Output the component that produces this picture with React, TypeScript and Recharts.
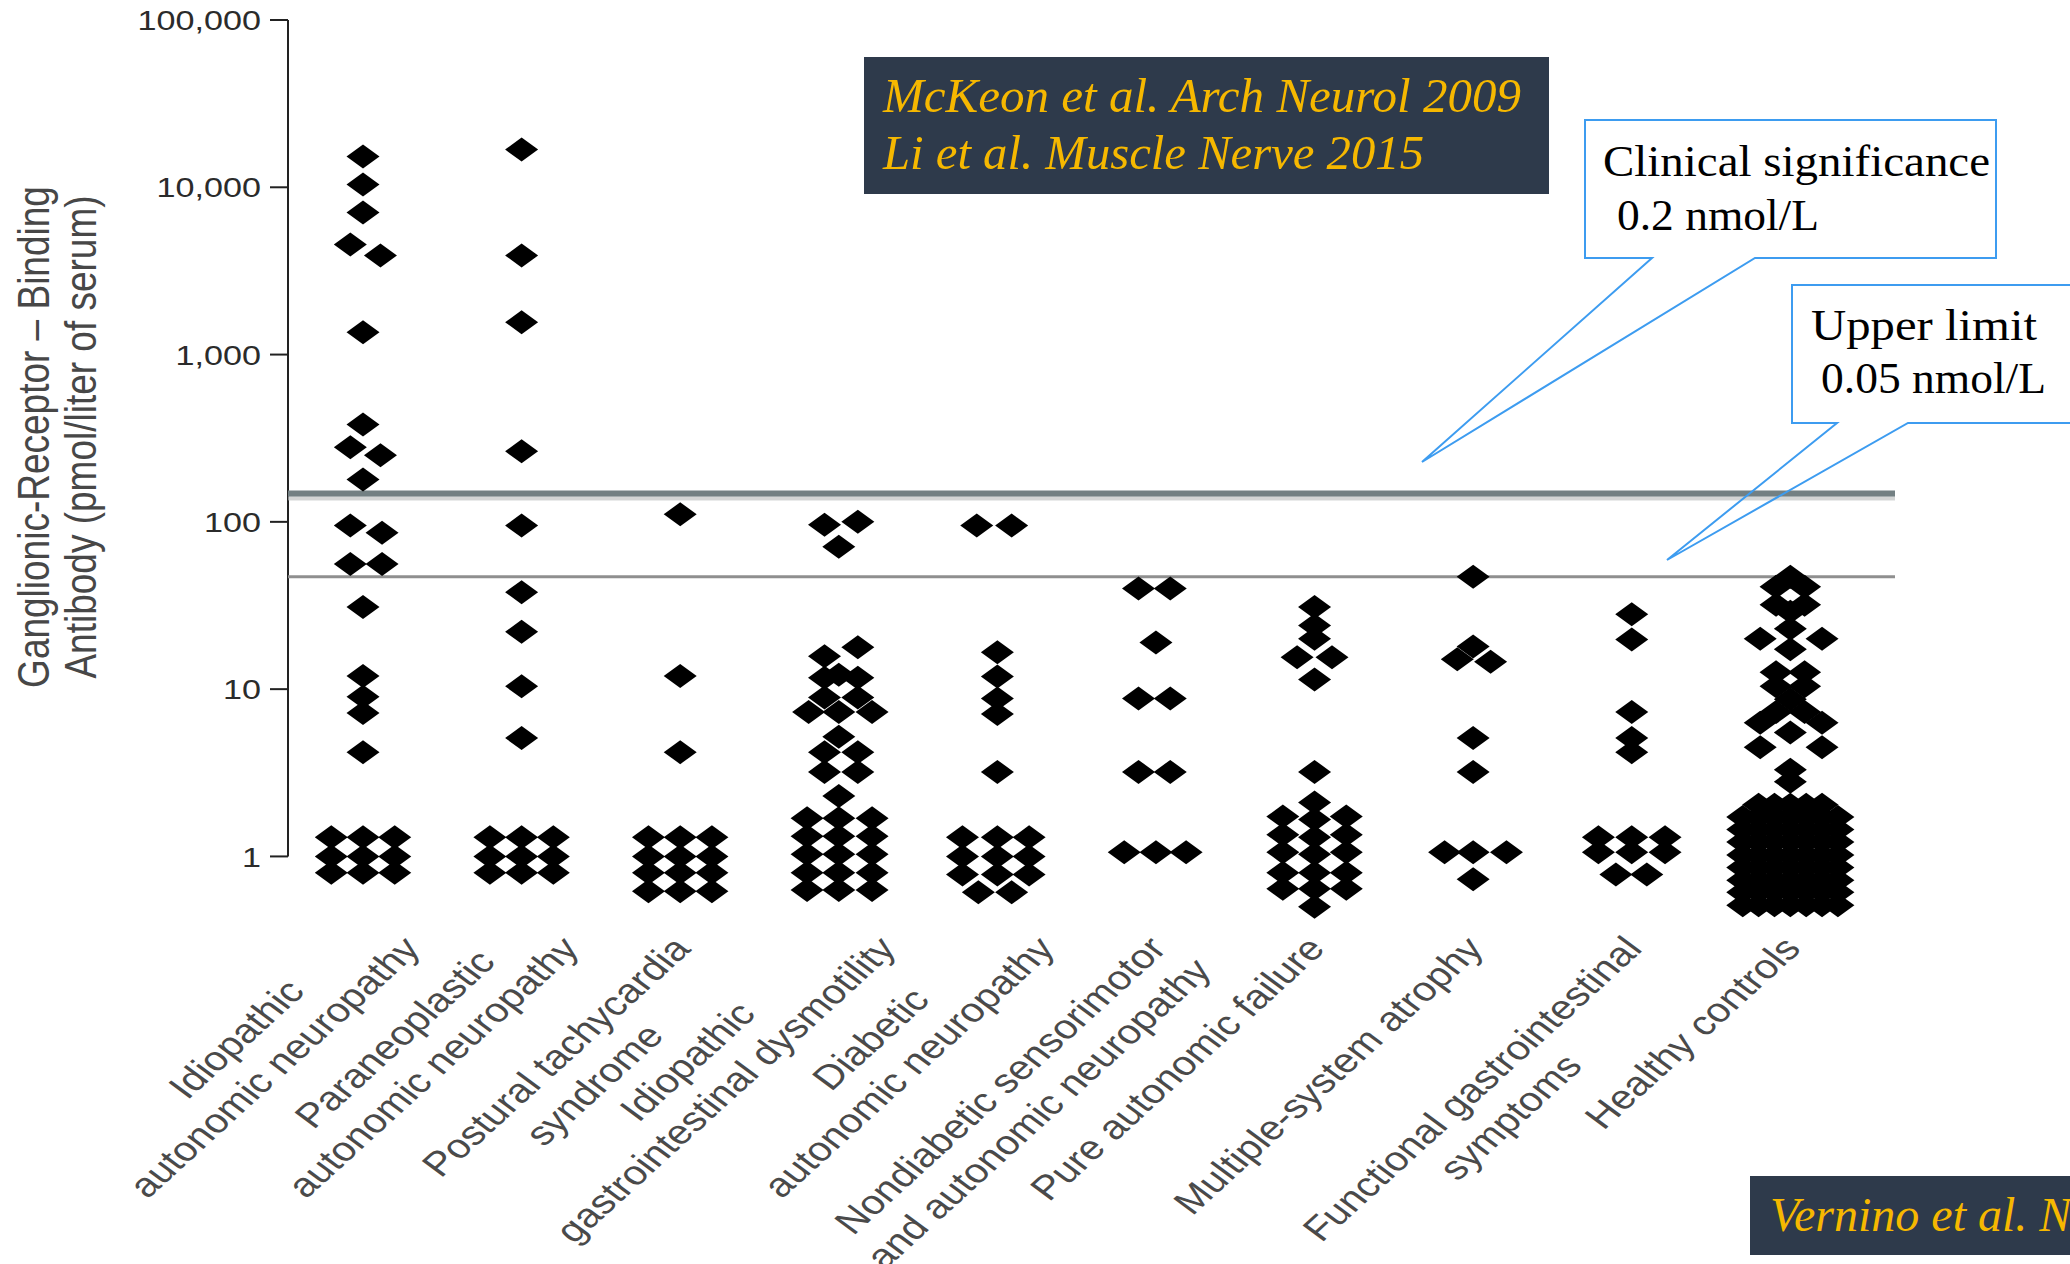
import React from 'react';
import { ScatterChart, Scatter, XAxis, YAxis, ReferenceLine } from 'recharts';

// each row: [antibody level pmol/L, column slots]; slot = 1/10 of group spacing
type Row = [number, number[]];

const GROUP_LABELS: string[][] = [
  ['Idiopathic', 'autonomic neuropathy'],
  ['Paraneoplastic', 'autonomic neuropathy'],
  ['Postural tachycardia', 'syndrome'],
  ['Idiopathic', 'gastrointestinal dysmotility'],
  ['Diabetic', 'autonomic neuropathy'],
  ['Nondiabetic sensorimotor', 'and autonomic neuropathy'],
  ['Pure autonomic failure'],
  ['Multiple-system atrophy'],
  ['Functional gastrointestinal', 'symptoms'],
  ['Healthy controls'],
];

const IDIOPATHIC_AN: Row[] = [
  [15300, [0]], [10400, [0]], [7070, [0]], [4550, [-0.8]], [3910, [1.1]],
  [1360, [0]], [382, [0]], [279, [-0.8]], [250, [1.1]], [179, [0]],
  [95, [-0.8]], [86, [1.2]], [56, [-0.8, 1.2]], [31, [0]], [12, [0]], [9, [0]], [7.2, [0]], [4.2, [0]],
  [1.3, [-2, 0, 2]], [1.0, [-2, 0, 2]], [0.8, [-2, 0, 2]],
];
const PARANEOPLASTIC: Row[] = [
  [16800, [0]], [3910, [0]], [1560, [0]], [264, [0]], [95, [0]], [38, [0]], [22, [0]], [10.4, [0]], [5.1, [0]],
  [1.3, [-2, 0, 2]], [1.0, [-2, 0, 2]], [0.8, [-2, 0, 2]],
];
const POTS: Row[] = [
  [111, [0]], [12, [0]], [4.2, [0]],
  [1.3, [-2, 0, 2]], [1.0, [-2, 0, 2]], [0.8, [-2, 0, 2]], [0.62, [-2, 0, 2]],
];
const GI_DYSMOTILITY: Row[] = [
  [100, [1.2]], [96, [-0.9]], [71, [0]],
  [17.8, [1.2]], [15.7, [-0.9]], [12.2, [0]], [11.7, [-0.9, 1.2]],
  [8.9, [-0.9, 1.2]], [7.3, [-1.9, 0, 2.1]], [5.2, [0]], [4.2, [-0.9, 1.2]], [3.2, [-0.9, 1.2]], [2.3, [0]],
  [1.69, [-2, 0, 2.1]], [1.32, [-2, 0, 2.1]], [1.03, [-2, 0, 2.1]], [0.8, [-2, 0, 2.1]], [0.63, [-2, 0, 2.1]],
];
const DIABETIC: Row[] = [
  [95, [-1.3, 0.9]], [16.6, [0]], [11.9, [0]], [8.8, [0]], [7.1, [0]], [3.2, [0]],
  [1.3, [-2.2, 0, 2]], [1.0, [-2.2, 0, 2]], [0.78, [-2.2, 0, 2]], [0.61, [-1.2, 0.9]],
];
const NONDIABETIC: Row[] = [
  [40, [-1.1, 0.9]], [19, [0]], [8.8, [-1.1, 0.9]], [3.2, [-1.1, 0.9]], [1.06, [-2, 0, 1.9]],
];
const PURE_AF: Row[] = [
  [31, [0]], [24, [0]], [20, [0]], [15.5, [-1.1, 1.1]], [11.4, [0]], [3.2, [0]],
  [2.1, [0]], [1.73, [-2, 2]], [1.66, [0]], [1.35, [-2, 2]], [1.3, [0]], [1.06, [-2, 2]], [1.03, [0]],
  [0.8, [-2, 0, 2]], [0.64, [-2, 0, 2]], [0.5, [0]],
];
const MSA: Row[] = [
  [47, [0]], [18, [0]], [15.1, [-1]], [14.6, [1.1]], [5.1, [0]], [3.2, [0]],
  [1.06, [-1.8, 0, 2.1]], [0.73, [0]],
];
const FUNCTIONAL_GI: Row[] = [
  [28, [0]], [19.8, [0]], [7.3, [0]], [5.1, [0]], [4.2, [0]],
  [1.3, [-2.1, 0, 2.1]], [1.06, [-2.1, 0, 2.1]], [0.78, [-1, 0.95]],
];
const HEALTHY: Row[] = [
  [47, [0]], [41, [-0.9, 0.9]], [32, [-0.9, 0.9]], [29, [0]], [23, [0]], [20, [-1.9, 2]], [17.3, [0]],
  [12.6, [-0.9, 0.9]], [10.4, [-0.9, 0.9]], [8.7, [0]], [7.3, [-0.9, 0.9]], [6.3, [-1.9, 2]], [5.5, [0]],
  [4.5, [-1.9, 2]], [3.3, [0]], [2.8, [0]],
  [2.04, [-2, -1, 0, 1, 2]], [1.72, [-3, -2, -1, 0, 1, 2, 3]], [1.45, [-3, -2, -1, 0, 1, 2, 3]],
  [1.22, [-3, -2, -1, 0, 1, 2, 3]], [1.02, [-3, -2, -1, 0, 1, 2, 3]], [0.86, [-3, -2, -1, 0, 1, 2, 3]],
  [0.72, [-3, -2, -1, 0, 1, 2, 3]], [0.61, [-3, -2, -1, 0, 1, 2, 3]], [0.51, [-3, -2, -1, 0, 1, 2, 3]],
];

const GROUPS: Row[][] = [
  IDIOPATHIC_AN, PARANEOPLASTIC, POTS, GI_DYSMOTILITY, DIABETIC,
  NONDIABETIC, PURE_AF, MSA, FUNCTIONAL_GI, HEALTHY,
];

const Y_TICKS = [1, 10, 100, 1000, 10000, 100000];
const CLINICAL_LEVEL = 148; // 0.2 nmol/L line as drawn
const UPPER_LIMIT = 47; // 0.05 nmol/L line as drawn

const W = 2070;
const H = 1264;
const X_MIN = -0.473;
const X_MAX = 9.66;
const SLOT = 0.1;
const SX = 1.22; // the figure is stretched sideways
const SANS = '"Liberation Sans", Arial, Helvetica, sans-serif';
const SERIF = '"Liberation Serif", "DejaVu Serif", serif';
const LABEL_FONT = 34;
const LABEL_ROT = 48;
const LABEL_LH = 42;

let ctx: CanvasRenderingContext2D | null = null;
function textWidth(s: string, font: string) {
  if (!ctx) ctx = document.createElement('canvas').getContext('2d');
  if (!ctx) return s.length * 17;
  ctx.font = font;
  return ctx.measureText(s).width;
}

const Diamond = (p: any) => {
  const { cx, cy } = p;
  if (cx == null || cy == null) return <g />;
  const dx = 16.5;
  const dy = 12;
  return <polygon points={`${cx},${cy - dy} ${cx + dx},${cy} ${cx},${cy + dy} ${cx - dx},${cy}`} fill="#000" />;
};

const YTick = (p: any) => {
  const { x, y, payload } = p;
  return (
    <text
      transform={`translate(${x},${y}) scale(${SX},1)`}
      textAnchor="end"
      dy="0.36em"
      fontSize={28}
      fontFamily={SANS}
      fill="#2b2b2b"
    >
      {Number(payload.value).toLocaleString('en-US')}
    </text>
  );
};

const GroupTick = (p: any) => {
  const { x, y, payload } = p;
  const lines = GROUP_LABELS[payload.value] ?? [];
  if (!lines.length) return <g />;
  const font = `${LABEL_FONT}px "Liberation Sans"`;
  const w = lines.map((l) => textWidth(l, font));
  const wMax = Math.max(...w);
  const th = (LABEL_ROT * Math.PI) / 180;
  const c = Math.cos(th);
  const s = Math.sin(th);
  const xh = LABEL_FONT * 0.52;
  // top of the last glyph of each line, in screen offsets
  const ends = lines.map((_, i) => {
    const a = -(wMax - w[i]) / 2;
    const b = i * LABEL_LH - xh;
    return { x: SX * (a * c + b * s), y: -a * s + b * c };
  });
  let k = 0;
  ends.forEach((e, i) => {
    if (e.y < ends[k].y) k = i;
  });
  const ox = x + (k === 0 ? -4 : 43) - ends[k].x;
  const oy = y + 15 - ends[k].y;
  return (
    <g transform={`translate(${ox},${oy}) scale(${SX},1) rotate(${-LABEL_ROT})`}>
      {lines.map((l, i) => (
        <text
          key={i}
          x={-wMax / 2}
          y={i * LABEL_LH}
          textAnchor="middle"
          fontSize={LABEL_FONT}
          fontFamily={SANS}
          fill="#4a4a4a"
        >
          {l}
        </text>
      ))}
    </g>
  );
};

const ThickLine = (p: any) => {
  const { x1, x2, y1 } = p;
  if (x1 == null) return <g />;
  return (
    <g>
      <rect x={x1} y={y1 + 1} width={x2 - x1} height={6} fill="#9aa0a0" opacity={0.35} />
      <rect x={x1} y={y1 + 3} width={x2 - x1} height={4} fill="#c9cccc" opacity={0.5} />
      <line x1={x1} x2={x2} y1={y1} y2={y1} stroke="#738083" strokeWidth={6} />
    </g>
  );
};

export default function App() {
  const series = GROUPS.map((rows, gi) =>
    rows.flatMap(([v, slots]) => slots.map((sl) => ({ x: gi + sl * SLOT, y: v })))
  );

  return (
    <div style={{ position: 'relative', width: W, height: H, overflow: 'hidden', background: '#fff' }}>
      <style>{'body{margin:0;background:#fff}'}</style>
      <ScatterChart width={W} height={H} margin={{ top: 20, right: 175, bottom: 41, left: 0 }}>
        <XAxis
          type="number"
          dataKey="x"
          domain={[X_MIN, X_MAX]}
          ticks={[0, 1, 2, 3, 4, 5, 6, 7, 8, 9]}
          interval={0}
          allowDataOverflow
          axisLine={false}
          tickLine={false}
          tickSize={0}
          tickMargin={0}
          height={300}
          tick={(p: any) => <GroupTick {...p} />}
        />
        <YAxis
          type="number"
          dataKey="y"
          scale="log"
          domain={[0.4, 100000]}
          ticks={Y_TICKS}
          interval={0}
          allowDataOverflow
          axisLine={false}
          tickSize={18}
          tickMargin={9}
          tickLine={{ stroke: '#222', strokeWidth: 2 }}
          width={288}
          tick={(p: any) => <YTick {...p} />}
        />
        <ReferenceLine
          segment={[{ x: X_MIN, y: 1 }, { x: X_MIN, y: 100000 }]}
          stroke="#222"
          strokeWidth={2}
        />
        <ReferenceLine y={UPPER_LIMIT} stroke="#8f8f8f" strokeWidth={3} />
        <ReferenceLine y={CLINICAL_LEVEL} shape={(p: any) => <ThickLine {...p} />} />
        {series.map((data, gi) => (
          <Scatter
            key={gi}
            data={data}
            fill="#000"
            shape={(p: any) => <Diamond {...p} />}
            isAnimationActive={false}
          />
        ))}
      </ScatterChart>

      <svg
        width={W}
        height={H}
        style={{ position: 'absolute', left: 0, top: 0, pointerEvents: 'none' }}
      >
        {/* y axis title */}
        <g fontFamily={SANS} fontSize={37} fill="#474747">
          <text transform={`translate(49,437) scale(${SX},1) rotate(-90)`} textAnchor="middle">
            Ganglionic-Receptor – Binding
          </text>
          <text transform={`translate(96,437) scale(${SX},1) rotate(-90)`} textAnchor="middle">
            Antibody (pmol/liter of serum)
          </text>
        </g>

        {/* citations */}
        <rect x={864} y={57} width={685} height={137} fill="#2e3a4b" />
        <g fontFamily={SERIF} fontStyle="italic" fontSize={48} fill="#f6b800">
          <text x={883} y={112} textLength={638} lengthAdjust="spacingAndGlyphs">
            McKeon et al. Arch Neurol 2009
          </text>
          <text x={883} y={169} textLength={541} lengthAdjust="spacingAndGlyphs">
            Li et al. Muscle Nerve 2015
          </text>
        </g>
        <rect x={1750} y={1176} width={340} height={79} fill="#2e3a4b" />
        <text x={1770} y={1231} fontFamily={SERIF} fontStyle="italic" fontSize={48} fill="#f6b800">
          Vernino et al. N Engl J Med 2000
        </text>

        {/* callouts */}
        <path
          d="M1585,120 L1996,120 L1996,258 L1755,258 L1422,462 L1652,258 L1585,258 Z"
          fill="none"
          stroke="#3d9cf0"
          strokeWidth={2}
        />
        <rect x={1586} y={121} width={409} height={136} fill="#fff" />
        <g fontFamily={SERIF} fontSize={44} fill="#000">
          <text x={1603} y={176} textLength={387} lengthAdjust="spacingAndGlyphs">
            Clinical significance
          </text>
          <text x={1617} y={230} textLength={202} lengthAdjust="spacingAndGlyphs">
            0.2 nmol/L
          </text>
        </g>
        <path
          d="M1792,285 L2090,285 L2090,423 L1908,423 L1667,560 L1837,423 L1792,423 Z"
          fill="none"
          stroke="#3d9cf0"
          strokeWidth={2}
        />
        <g fontFamily={SERIF} fontSize={44} fill="#000">
          <text x={1811} y={340} textLength={226} lengthAdjust="spacingAndGlyphs">
            Upper limit
          </text>
          <text x={1821} y={393} textLength={225} lengthAdjust="spacingAndGlyphs">
            0.05 nmol/L
          </text>
        </g>
      </svg>
    </div>
  );
}
